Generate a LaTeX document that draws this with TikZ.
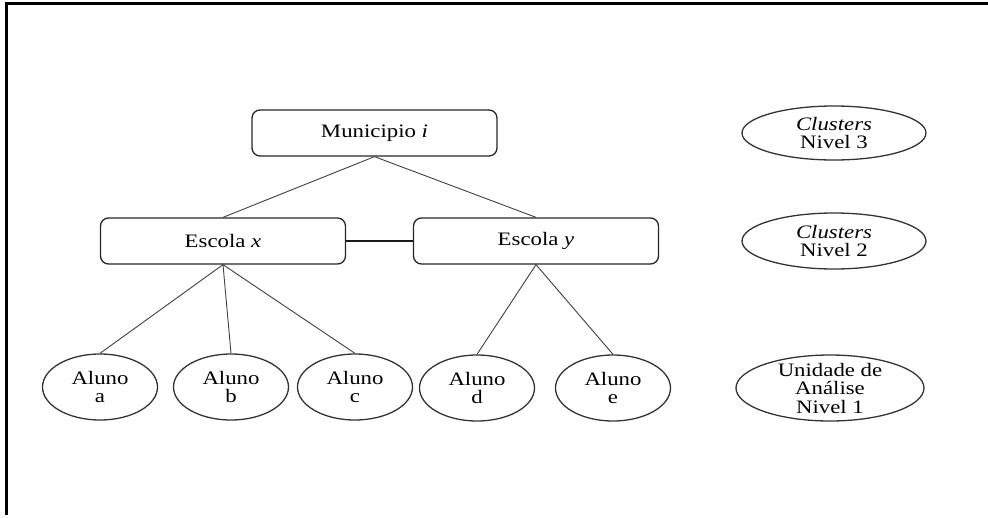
\documentclass[tikz,border=0pt]{standalone}
\usepackage{fontspec}
\setmainfont{Liberation Serif}[FakeStretch=1.2]
\usetikzlibrary{shapes.geometric}
\begin{document}
\begin{tikzpicture}[x=1pt,y=-1pt,
  box/.style={draw=black!85, line width=1.3pt, rounded corners=8pt,
    minimum width=245pt, minimum height=46pt, inner sep=0pt,
    font=\fontsize{19}{19}\selectfont},
  stud/.style={draw=black!80, line width=1.3pt, ellipse,
    minimum width=115pt, minimum height=66pt, inner sep=0pt},
  lvl/.style={draw=black!80, line width=1.3pt, ellipse,
    minimum width=184pt, minimum height=54pt, inner sep=0pt},
  txt/.style={align=center, inner sep=0pt, font=\fontsize{19}{18.5}\selectfont},
  conn/.style={draw=black!75, line width=0.9pt}]
\useasboundingbox (0,0) rectangle (988,517);
\draw[line width=2.5pt] (6.5,515) -- (6.5,3.5) -- (988,3.5);

\node[box] (mun) at (374.5,133) {Municipio \textit{i}};
\node[box] (ex) at (223,241) {Escola \textit{x}};
\node[box] (ey) at (536,241) {Escola \textit{y}};

\node[stud, label={[txt]center:Aluno\\a}] (aa) at (100,387) {};
\node[stud, label={[txt]center:Aluno\\b}] (ab) at (231,387) {};
\node[stud, label={[txt]center:Aluno\\c}] (ac) at (355,387) {};
\node[stud, label={[txt]center:Aluno\\d}] (ad) at (477,388) {};
\node[stud, label={[txt]center:Aluno\\e}] (ae) at (613,388) {};

\node[lvl, label={[txt]center:\textit{Clusters}\\Nivel 3}] (l3) at (834,133) {};
\node[lvl, minimum height=56pt, label={[txt]center:\textit{Clusters}\\Nivel 2}] (l2) at (834,241) {};
\node[lvl, minimum width=188pt, minimum height=66pt,
  label={[txt]center:Unidade de\\Análise\\Nivel 1}] (l1) at (830,388) {};

\draw[conn] (mun.south) -- (ex.north);
\draw[conn] (mun.south) -- (ey.north);
\draw[conn, draw=black!90, line width=1.2pt] (ex.east) -- (ey.west);
\draw[conn] (ex.south) -- (aa.north);
\draw[conn] (ex.south) -- (ab.north);
\draw[conn] (ex.south) -- (ac.north);
\draw[conn] (ey.south) -- (ad.north);
\draw[conn] (ey.south) -- (ae.north);
\end{tikzpicture}
\end{document}
